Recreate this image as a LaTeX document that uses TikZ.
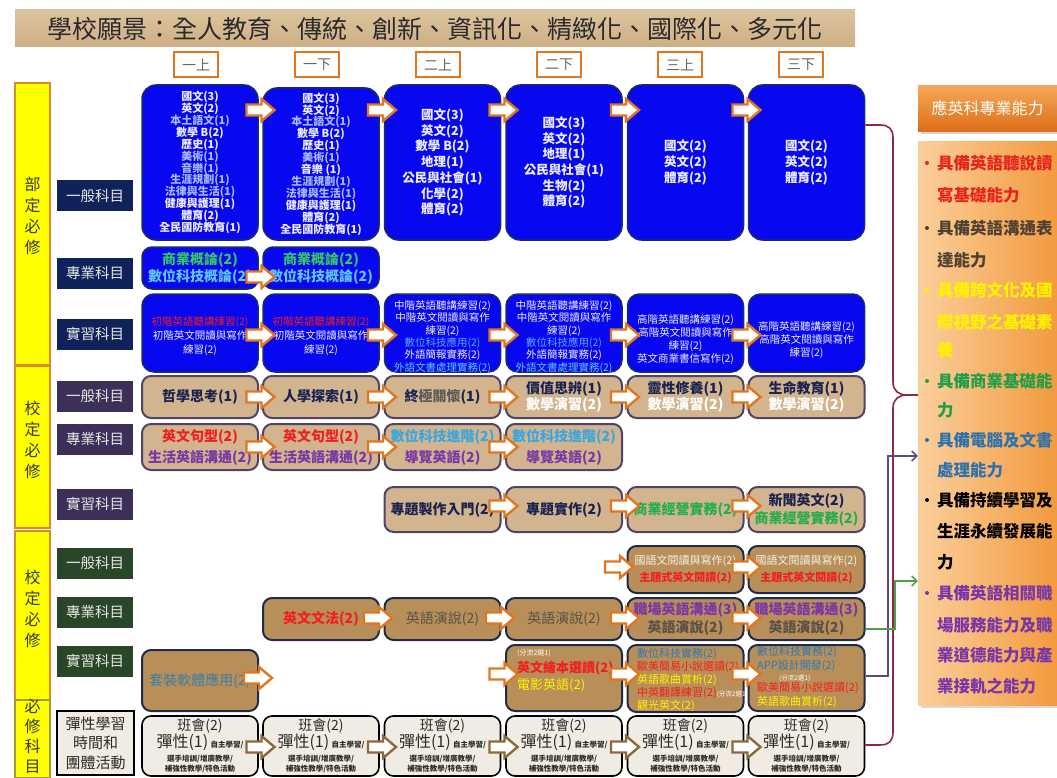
\documentclass[tikz,border=0pt]{standalone}
\usepackage{fontspec}
\setmainfont{Noto Sans CJK TC}
\usetikzlibrary{arrows.meta,shadows}
\newcommand\myfs[2]{\fontsize{#1}{#2}\selectfont}
\newcommand\lbc[1]{\textcolor{txtl}{#1}}
\definecolor{bboxfill}{HTML}{0707F0}
\definecolor{bboxdraw}{HTML}{1A2B6B}
\definecolor{txtw}{HTML}{EDEDFF}
\definecolor{txtl}{HTML}{A9B9FF}
\definecolor{tanfill}{HTML}{D2B48E}
\definecolor{tandraw}{HTML}{4F4468}
\definecolor{dtanfill}{HTML}{B88F58}
\definecolor{dtandraw}{HTML}{1E2B4A}
\definecolor{beigefill}{HTML}{F1ECE3}
\definecolor{arrowor}{HTML}{E2761F}
\definecolor{arrowbr}{HTML}{8A6A3A}
\definecolor{hdrtop}{HTML}{DDC39E}
\definecolor{hdrbot}{HTML}{CDAF85}
\definecolor{titletxt}{HTML}{2A2A2A}
\definecolor{hdrtxt}{HTML}{666666}
\definecolor{ylw}{HTML}{FFFF00}
\definecolor{ylwdraw}{HTML}{D98A2B}
\definecolor{olivedraw}{HTML}{A8963E}
\definecolor{ytext}{HTML}{3A3A3A}
\definecolor{lbltxt}{HTML}{E6E6E6}
\definecolor{navy}{HTML}{0F2259}
\definecolor{purp}{HTML}{3D2F57}
\definecolor{dgreen}{HTML}{2A4628}
\definecolor{tdark}{HTML}{2E2A25}
\definecolor{tred}{HTML}{F21E1E}
\definecolor{tgreen}{HTML}{34C862}
\definecolor{tlblue}{HTML}{5EC6FF}
\definecolor{tlblue2}{HTML}{5AA8FF}
\definecolor{tpurple}{HTML}{7A36A6}
\definecolor{tcyan}{HTML}{3AA6E0}
\definecolor{tyellow}{HTML}{FFF200}
\definecolor{tsteel}{HTML}{3A7DA8}
\definecolor{tnavy}{HTML}{1A2350}
\definecolor{tgray}{HTML}{5A5048}
\definecolor{tbgreen}{HTML}{22AE4A}
\definecolor{tblue}{HTML}{2F78B8}
\definecolor{dtxtw}{HTML}{F5F0E8}
\definecolor{bracered}{HTML}{8E2A40}
\definecolor{linepurp}{HTML}{5B4B7E}
\definecolor{linegreen}{HTML}{4E9E52}
\definecolor{phtop}{HTML}{F5A858}
\definecolor{phbot}{HTML}{DE6E18}
\definecolor{pbleft}{HTML}{FBCF9C}
\definecolor{pbright}{HTML}{F29A3E}
\definecolor{pred}{HTML}{E8231C}
\definecolor{pbrown}{HTML}{4F4232}
\definecolor{pgreen}{HTML}{1F9E48}
\definecolor{pblue}{HTML}{2D72AD}
\tikzset{
 bb/.style={draw=bboxdraw, line width=1.5pt, fill=bboxfill, rounded corners=14pt, minimum width=116pt, inner sep=0pt, align=center, text=txtw},
 tb/.style={draw=tandraw, line width=2pt, fill=tanfill, rounded corners=9pt, minimum width=116pt, inner sep=0pt, align=center, text=tnavy},
 db/.style={draw=dtandraw, line width=2pt, fill=dtanfill, rounded corners=9pt, minimum width=116pt, inner sep=0pt, align=center},
 eb/.style={draw=black, line width=1.6pt, fill=beigefill, rounded corners=9pt, minimum width=116pt, minimum height=60pt, inner sep=0pt, align=center, text=tdark, font=\myfs{14}{17}},
 hdr/.style={draw=arrowor, line width=2pt, fill=white, minimum width=44pt, minimum height=25pt, inner sep=0pt, text=hdrtxt, font=\myfs{14}{14}},
 ybar/.style={draw=ylwdraw, line width=1.8pt, fill=ylw, minimum width=35pt, inner sep=0pt},
 ytxt/.style={align=center, inner sep=0pt, text=ytext, font=\myfs{16}{21}},
 lbl/.style={minimum width=76pt, minimum height=31pt, inner sep=0pt, text=lbltxt, font=\myfs{14.5}{14.5}},
 ptxt/.style={anchor=west, inner sep=0pt, font=\myfs{16.5}{16.5}\bfseries},
 btxt/.style={inner sep=0pt, align=center, text=txtw, font=\myfs{10.5}{12.3}},
 ltxt/.style={anchor=west, inner sep=0pt, align=left, font=\myfs{11}{13}},
 pics/barr/.style={code={\draw[line width=2.4pt, draw=#1, fill=white, line join=miter] (-14,-5.5) -- (1,-5.5) -- (1,-11) -- (14,0) -- (1,11) -- (1,5.5) -- (-14,5.5) -- cycle;}},
 brace/.style={draw=bracered, line width=1.6pt},
}
\begin{document}
\begin{tikzpicture}[x=1pt,y=-1pt]
\useasboundingbox (0,0) rectangle (1057,778);
% title
\node[top color=hdrtop, bottom color=hdrbot, minimum width=840pt, minimum height=37pt, inner sep=0pt, text=titletxt, font=\myfs{25}{25}] (title) at (435,28.5) {學校願景：全人教育、傳統、創新、資訊化、精緻化、國際化、多元化};
% semester headers
\node[hdr] (h1) at (196,64.5) {一上};
\node[hdr] (h2) at (317,64.5) {一下};
\node[hdr] (h3) at (438,64.5) {二上};
\node[hdr] (h4) at (559,64.5) {二下};
\node[hdr] (h5) at (680,64.5) {三上};
\node[hdr] (h6) at (801,64.5) {三下};
% yellow bars
\node[ybar, minimum height=282pt] (ya) at (32.5,224) {};
\node[ytxt] (yat) at (32.5,216) {部\\定\\必\\修};
\node[ybar, minimum height=162pt] (yb) at (32.5,447) {};
\node[ytxt] (ybt) at (32.5,440) {校\\定\\必\\修};
\node[ybar, minimum height=169pt] (yc) at (32.5,615.5) {};
\node[ytxt] (yct) at (32.5,609) {校\\定\\必\\修};
\node[ybar, draw=olivedraw, minimum height=78pt] (yd) at (32.5,739) {};
\node[ytxt, font=\myfs{16}{20}] (ydt) at (32.5,736) {必\\修\\科\\目};
% category labels
\node[lbl, fill=navy] (la1) at (95,196) {一般科目};
\node[lbl, fill=navy] (la2) at (95,273) {專業科目};
\node[lbl, fill=navy] (la3) at (95,334) {實習科目};
\node[lbl, fill=purp] (lb1) at (95,396) {一般科目};
\node[lbl, fill=purp] (lb2) at (95,439) {專業科目};
\node[lbl, fill=purp] (lb3) at (95,504) {實習科目};
\node[lbl, fill=dgreen] (lc1) at (95,563) {一般科目};
\node[lbl, fill=dgreen] (lc2) at (95,612) {專業科目};
\node[lbl, fill=dgreen] (lc3) at (95,661) {實習科目};
\node[draw=black, line width=1.5pt, fill=beigefill, minimum width=77pt, minimum height=64pt, inner sep=0pt, align=center, text=tdark, font=\myfs{15}{19.5}] (ld) at (95.5,743) {彈性學習\\時間和\\團體活動};
% row 1
\node[bb, minimum height=155pt, font=\myfs{11}{11.9}\bfseries] (r1c1) at (200,162.5) {國文(3)\\英文(2)\\\lbc{本土語文(1)}\\數學 B(2)\\歷史(1)\\\lbc{美術(1)}\\\lbc{音樂(1)}\\\lbc{生涯規劃(1)}\\\lbc{法律與生活(1)}\\健康與護理(1)\\體育(2)\\全民國防教育(1)};
\node[bb, minimum height=152pt, font=\myfs{11}{11.9}\bfseries] (r1c2) at (321,164) {國文(3)\\英文(2)\\\lbc{本土語文(1)}\\數學 B(2)\\歷史(1)\\\lbc{美術(1)}\\音樂 (1)\\\lbc{生涯規劃(1)}\\\lbc{法律與生活(1)}\\健康與護理(1)\\體育(2)\\全民國防教育(1)};
\node[bb, minimum height=155pt, font=\myfs{12.5}{15.7}\bfseries] (r1c3) at (442.5,162.5) {國文(3)\\英文(2)\\數學 B(2)\\地理(1)\\公民與社會(1)\\化學(2)\\體育(2)};
\node[bb, minimum height=155pt, font=\myfs{12.5}{15.7}\bfseries] (r1c4) at (564,162.5) {國文(3)\\英文(2)\\地理(1)\\公民與社會(1)\\生物(2)\\體育(2)};
\node[bb, minimum height=155pt, font=\myfs{12.5}{15.7}\bfseries] (r1c5) at (685.5,162.5) {國文(2)\\英文(2)\\體育(2)};
\node[bb, minimum height=155pt, font=\myfs{12.5}{15.7}\bfseries] (r1c6) at (806.5,162.5) {國文(2)\\英文(2)\\體育(2)};
% row 2
\node[bb, rounded corners=10pt, minimum height=42pt, font=\myfs{14}{17}\bfseries] (r2c1) at (200,268) {\textcolor{tgreen}{商業概論(2)}\\\textcolor{tlblue}{數位科技概論(2)}};
\node[bb, rounded corners=10pt, minimum height=42pt, font=\myfs{14}{17}\bfseries] (r2c2) at (321,268) {\textcolor{tgreen}{商業概論(2)}\\\textcolor{tlblue}{數位科技概論(2)}};
% row 3
\node[bb, rounded corners=12pt, minimum height=78pt] (r3c1) at (200,333) {};
\node[bb, rounded corners=12pt, minimum height=78pt] (r3c2) at (321,333) {};
\node[bb, rounded corners=12pt, minimum height=78pt] (r3c3) at (442.5,333) {};
\node[bb, rounded corners=12pt, minimum height=78pt] (r3c4) at (564,333) {};
\node[bb, rounded corners=12pt, minimum height=78pt] (r3c5) at (685.5,333) {};
\node[bb, rounded corners=12pt, minimum height=78pt] (r3c6) at (806.5,333) {};
\node[btxt, font=\myfs{10.5}{14}] (t3c1) at (200,336) {\textcolor{tred}{初階英語聽講練習(2)}\\初階英文閱讀與寫作\\練習(2)};
\node[btxt, font=\myfs{10.5}{14}] (t3c2) at (321,336) {\textcolor{tred}{初階英語聽講練習(2)}\\初階英文閱讀與寫作\\練習(2)};
\node[btxt] (t3c3) at (442.5,337) {中階英語聽講練習(2)\\中階英文閱讀與寫作\\練習(2)\\\textcolor{tlblue2}{數位科技應用(2)}\\外語簡報實務(2)\\\textcolor{tlblue}{外語文書處理實務(2)}};
\node[btxt] (t3c4) at (564,337) {中階英語聽講練習(2)\\中階英文閱讀與寫作\\練習(2)\\\textcolor{tlblue2}{數位科技應用(2)}\\外語簡報實務(2)\\\textcolor{tlblue}{外語文書處理實務(2)}};
\node[btxt, font=\myfs{10.5}{13}] (t3c5) at (685.5,340) {高階英語聽講練習(2)\\高階英文閱讀與寫作\\練習(2)\\英文商業書信寫作(2)};
\node[btxt, font=\myfs{10.5}{13}] (t3c6) at (806.5,340) {高階英語聽講練習(2)\\高階英文閱讀與寫作\\練習(2)};
% row 4
\node[tb, minimum height=42pt, font=\myfs{14}{16}\bfseries] (r4c1) at (200,397) {哲學思考(1)};
\node[tb, minimum height=42pt, font=\myfs{14}{16}\bfseries] (r4c2) at (321,397) {人學探索(1)};
\node[tb, minimum height=42pt, font=\myfs{14}{16}\bfseries] (r4c3) at (442.5,397) {終\textcolor{gray!70!black}{極關懷}(1)};
\node[tb, minimum height=42pt, font=\myfs{14}{16}\bfseries] (r4c4) at (564,397) {價值思辨(1)\\\textcolor{white}{數學演習(2)}};
\node[tb, minimum height=42pt, font=\myfs{14}{16}\bfseries] (r4c5) at (685.5,397) {靈性修養(1)\\\textcolor{white}{數學演習(2)}};
\node[tb, minimum height=42pt, font=\myfs{14}{16}\bfseries] (r4c6) at (806.5,397) {生命教育(1)\\\textcolor{white}{數學演習(2)}};
% row 5
\node[tb, minimum height=46pt, font=\myfs{14}{21}\bfseries] (r5c1) at (200,447) {\textcolor{tred}{英文句型(2)}\\\textcolor{tpurple}{生活英語溝通(2)}};
\node[tb, minimum height=46pt, font=\myfs{14}{21}\bfseries] (r5c2) at (321,447) {\textcolor{tred}{英文句型(2)}\\\textcolor{tpurple}{生活英語溝通(2)}};
\node[tb, minimum height=46pt, font=\myfs{14}{21}\bfseries] (r5c3) at (442.5,447) {\textcolor{tcyan}{數位科技進階(2)}\\\textcolor{tpurple}{導覽英語(2)}};
\node[tb, minimum height=46pt, font=\myfs{14}{21}\bfseries] (r5c4) at (564,447) {\textcolor{tcyan}{數位科技進階(2)}\\\textcolor{tpurple}{導覽英語(2)}};
% row 6
\node[tb, minimum height=45pt, font=\myfs{14}{18}\bfseries] (r6c3) at (442.5,509.5) {專題製作入門(2)};
\node[tb, minimum height=45pt, font=\myfs{14}{18}\bfseries] (r6c4) at (564,509.5) {專題實作(2)};
\node[tb, minimum height=45pt, font=\myfs{14}{18}\bfseries] (r6c5) at (685.5,509.5) {\textcolor{tbgreen}{商業經營實務(2)}};
\node[tb, minimum height=45pt, font=\myfs{14}{18}\bfseries] (r6c6) at (806.5,509.5) {新聞英文(2)\\\textcolor{tbgreen}{商業經營實務(2)}};
% row 7
\node[db, minimum height=47pt, font=\myfs{11}{17}] (r7c5) at (685.5,569.5) {\textcolor{dtxtw}{國語文閱讀與寫作(2)}\\\textcolor{tred}{\bfseries 主題式英文閱讀(2)}};
\node[db, minimum height=47pt, font=\myfs{11}{17}] (r7c6) at (806.5,569.5) {\textcolor{dtxtw}{國語文閱讀與寫作(2)}\\\textcolor{tred}{\bfseries 主題式英文閱讀(2)}};
% row 8
\node[db, minimum height=42pt, font=\myfs{14}{14}\bfseries] (r8c2) at (321,619) {\textcolor{tred}{英文文法(2)}};
\node[db, minimum height=42pt, font=\myfs{14}{14}] (r8c3) at (442.5,619) {\textcolor{tgray}{英語演說(2)}};
\node[db, minimum height=42pt, font=\myfs{14}{14}] (r8c4) at (564,619) {\textcolor{tgray}{英語演說(2)}};
\node[db, minimum height=42pt, font=\myfs{14}{18}\bfseries] (r8c5) at (685.5,619) {\textcolor{tpurple}{職場英語溝通(3)}\\\textcolor{tgray}{英語演說(2)}};
\node[db, minimum height=42pt, font=\myfs{14}{18}\bfseries] (r8c6) at (806.5,619) {\textcolor{tpurple}{職場英語溝通(3)}\\\textcolor{tgray}{英語演說(2)}};
% row 9
\node[db, minimum height=61pt, font=\myfs{14}{14}] (r9c1) at (200,680.5) {\textcolor{tsteel}{套裝軟體應用(2)}};
\node[db, minimum height=66pt] (r9c4) at (564,678) {};
\node[db, minimum height=67pt] (r9c5) at (685.5,678.5) {};
\node[db, minimum height=66pt] (r9c6) at (806.5,678) {};
\node[ltxt, font=\myfs{13}{17}] (t9c4) at (517,671) {{\myfs{7}{8}\textcolor{white}{(分流2選1)}}\\{\bfseries\textcolor{tred}{英文繪本選讀(2)}}\\\textcolor{tyellow}{電影英語(2)}};
\node[ltxt] (t9c5) at (637,680) {\textcolor{tblue}{數位科技實務(2)}\\\textcolor{tred}{歐美簡易小說選讀(2)}\\\textcolor{tyellow}{英語歌曲賞析(2)}\\\textcolor{tred}{中英翻譯練習(2)}{\myfs{6.5}{7}\textcolor{white}{(分流2選1)}}\\\textcolor{tyellow}{觀光英文(2)}};
\node[ltxt, font=\myfs{11}{14}] (t9c6) at (757,677) {\textcolor{tblue}{數位科技實務(2)}\\\textcolor{tblue}{APP設計開發(2)}\\[-3pt]\hspace*{22pt}{\myfs{6.5}{7}\textcolor{white}{(分流2選1)}}\\[-3pt]\textcolor{tred}{歐美簡易小說選讀(2)}\\\textcolor{tyellow}{英語歌曲賞析(2)}};
% row 10
\foreach \cx/\nm in {200/1,321/2,442.5/3,564/4,685.5/5,806.5/6}
  \node[eb] (r10c\nm) at (\cx,746) {班會(2)\\{\myfs{16}{16}彈性(1)}\,{\myfs{7.5}{8}\bfseries 自主學習/}\\[-3pt]{\myfs{7.5}{8}\bfseries 選手培訓/增廣教學/}\\[-7pt]{\myfs{7.5}{8}\bfseries 補強性教學/特色活動}};
% block arrows
\foreach \gx in {260.5,382,503.5,625,746.5} \pic at (\gx,110) {barr=arrowor};
\pic at (260.5,277) {barr=arrowor};
\foreach \gx in {260.5,382,503.5,625,746.5} \pic at (\gx,335) {barr=arrowor};
\foreach \gx in {260.5,382,503.5,625,746.5} \pic at (\gx,397) {barr=arrowor};
\foreach \gx in {260.5,382,503.5} \pic at (\gx,447) {barr=arrowor};
\foreach \gx in {503.5,625,746.5} \pic at (\gx,506) {barr=arrowor};
\pic at (619,567) {barr=arrowor};
\pic at (746.5,567) {barr=arrowor};
\foreach \gx in {378,500,625,746.5} \pic at (\gx,618) {barr=arrowor};
\pic at (258,678) {barr=arrowor};
\foreach \gx in {503.5,625,746.5} \pic at (\gx,674) {barr=arrowor};
\foreach \gx in {260.5,382,503.5,625,746.5} \pic at (\gx,747) {barr=arrowbr};
% right panel
\node[minimum width=139pt, minimum height=563pt, inner sep=0pt, left color=pbleft, right color=pbright, drop shadow={opacity=0.3}] (pbody) at (987.5,423.5) {};
\node[minimum width=139pt, minimum height=46pt, inner sep=0pt, top color=phtop, bottom color=phbot, text=white, font=\myfs{16}{16}, drop shadow={opacity=0.35}] (phead) at (987.5,108.5) {應英科專業能力};
\foreach \py/\pc/\ptx in {163/pred/具備英語聽說讀, 195/pred/寫基礎能力, 228/pbrown/具備英語溝通表, 260/pbrown/達能力, 290/tyellow/具備跨文化及國, 322/tyellow/際視野之基礎素, 350/tyellow/養, 381/pgreen/具備商業基礎能, 410/pgreen/力, 440/pblue/具備電腦及文書, 470/pblue/處理能力, 500/black/具備持續學習及, 531/black/生涯永續發展能, 562/black/力, 593/tpurple/具備英語相關職, 625/tpurple/場服務能力及職, 655/tpurple/業道德能力與產, 686/tpurple/業接軌之能力}
  \node[ptxt, text=\pc] (pl\py) at (937,\py) {\ptx};
\foreach \py/\pc in {163/pred,228/pbrown,290/tyellow,381/pgreen,440/pblue,500/black,593/tpurple}
  \fill[\pc] (927,\py) circle (2pt);
% connectors
\draw[brace] (r1c6.east |- 0,125) -- (880,125) .. controls (889,125) and (893,129) .. (893,138) -- (893,382) .. controls (893,391) and (899,395) .. (907,395) -- (pbody.west |- 0,395);
\draw[brace] (907,395) .. controls (899,395) and (893,399) .. (893,408) -- (893,732) .. controls (893,741) and (889,745) .. (880,745) -- (r10c6.east |- 0,745);
\draw[linepurp, line width=1.5pt, -{Straight Barb[length=5pt,width=10pt]}] (r9c6.east |- 0,676) -- (888,676) -- (888,456) -- (pbody.west |- 0,456);
\draw[linegreen, line width=1.5pt, -{Straight Barb[length=5pt,width=10pt]}] (r8c6.east |- 0,629) -- (895,629) -- (895,581) -- (pbody.west |- 0,581);
\end{tikzpicture}
\end{document}
